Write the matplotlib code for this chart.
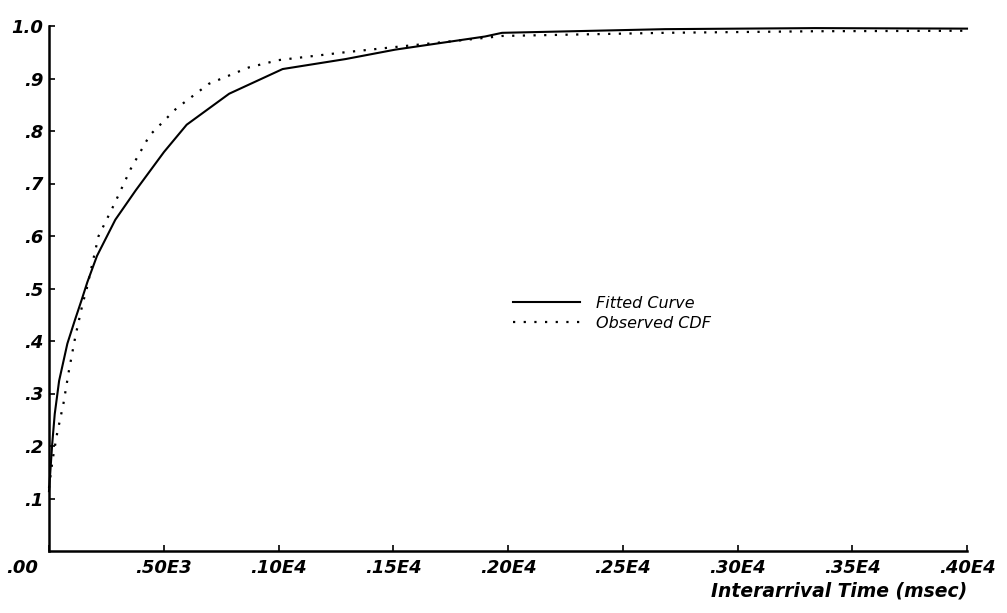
import numpy as np
import matplotlib.pyplot as plt
import matplotlib.transforms as mtransforms
from matplotlib.lines import Line2D

# interarrival time (msec) vs cumulative probability
fit_t = [0, 14, 25, 44, 80, 113, 142, 167, 209, 289, 378, 501, 600, 785,
         1018, 1292, 1509, 1900, 1974, 2684, 3338, 4000]
fit_p = [0.114, 0.204, 0.261, 0.324, 0.395, 0.440, 0.478, 0.512, 0.562, 0.631,
         0.687, 0.760, 0.812, 0.871, 0.918, 0.937, 0.955, 0.980, 0.987, 0.994,
         0.996, 0.995]

obs_t = [0, 15, 35, 63, 87, 115, 147, 163, 216, 287, 355, 439, 555, 697, 870,
         1000, 1291, 1509, 1913, 1973, 2684, 3338, 4000]
obs_p = [0.12, 0.172, 0.223, 0.281, 0.344, 0.409, 0.472, 0.497, 0.600, 0.663,
         0.727, 0.792, 0.843, 0.890, 0.921, 0.935, 0.950, 0.960, 0.978, 0.981,
         0.987, 0.990, 0.991]

xticks = [0, 500, 1000, 1500, 2000, 2500, 3000, 3500, 4000]
xticklabels = ['.00', '.50E3', '.10E4', '.15E4', '.20E4', '.25E4', '.30E4',
               '.35E4', '.40E4']
yticks = [0.1, 0.2, 0.3, 0.4, 0.5, 0.6, 0.7, 0.8, 0.9, 1.0]
yticklabels = ['.1', '.2', '.3', '.4', '.5', '.6', '.7', '.8', '.9', '1.0']

plt.rcParams['font.family'] = 'DejaVu Sans'

fig = plt.figure(figsize=(10.07, 6.13), dpi=100)
ax = fig.add_axes([49/1007, 1 - 551/613, 918/1007, 525/613])

dots = (0, (1, 3.8))
ax.plot(fit_t, fit_p, color='black', lw=1.5, clip_on=False)
ax.plot(obs_t, obs_p, color='black', lw=1.6, ls=dots, clip_on=False)

ax.set_xlim(0, 4000)
ax.set_ylim(0, 1.0)
for s in ['top', 'right']:
    ax.spines[s].set_visible(False)
for s in ['left', 'bottom']:
    ax.spines[s].set_linewidth(1.8)

tick_font = dict(fontsize=13, fontweight='bold', fontstyle='italic')
ax.set_xticks(xticks)
ax.set_xticklabels(xticklabels, **tick_font)
ax.set_yticks(yticks)
ax.set_yticklabels(yticklabels, **tick_font)
ax.tick_params(axis='both', direction='in', length=4, width=1.2, pad=6)
ax.tick_params(axis='y', pad=4)

# the zero label sits left of the origin
zero = ax.get_xticklabels()[0]
zero.set_ha('right')
zero.set_transform(zero.get_transform() +
                   mtransforms.ScaledTranslation(-8/72, 0, fig.dpi_scale_trans))

ax.set_xlabel('Interarrival Time (msec)', loc='right', labelpad=3,
              fontsize=13.5, fontweight='bold', fontstyle='italic')

handles = [Line2D([], [], color='black', lw=1.5),
           Line2D([], [], color='black', lw=1.6, ls=dots)]
ax.legend(handles, ['Fitted Curve', 'Observed CDF'],
          loc='upper left', bbox_to_anchor=(513/1007, 1 - 296/613),
          bbox_transform=fig.transFigure, frameon=False,
          prop=dict(size=11.5, style='italic'),
          handlelength=4.2, handletextpad=1.0, labelspacing=0.3,
          borderpad=0, borderaxespad=0)

fig.savefig('out.png', dpi=100)
